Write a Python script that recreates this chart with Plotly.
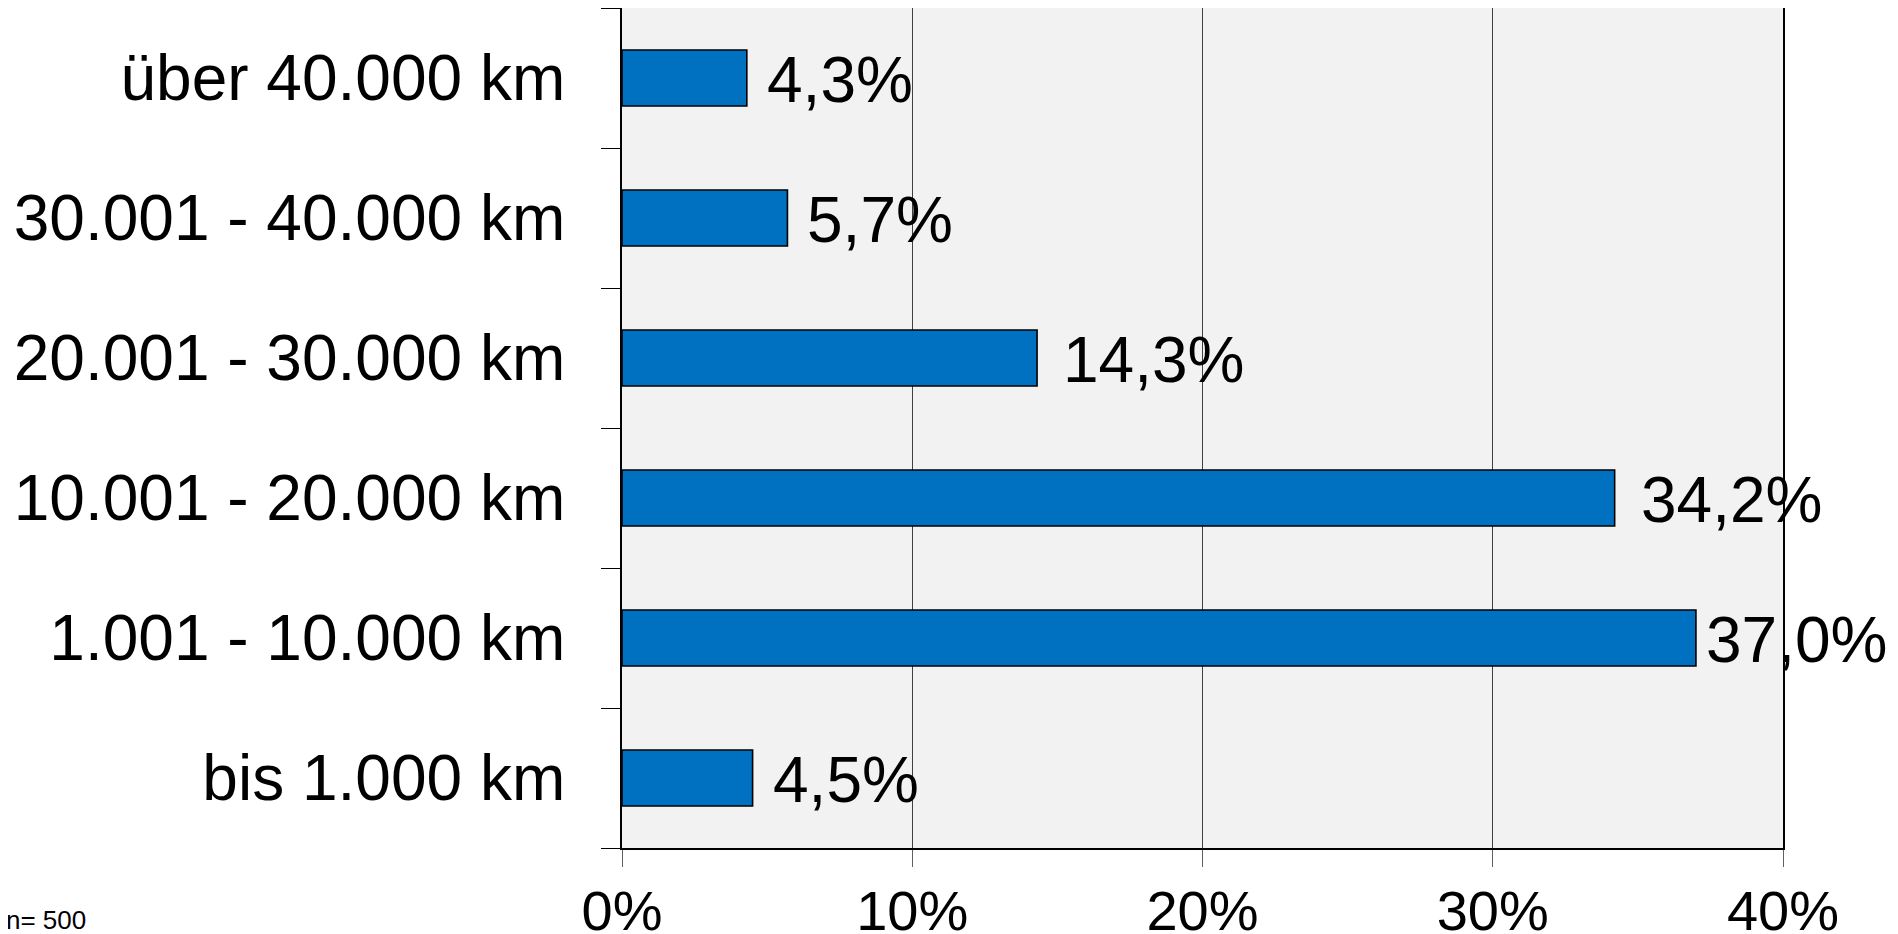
import plotly.graph_objects as go

categories = ["bis 1.000 km", "1.001 - 10.000 km", "10.001 - 20.000 km",
              "20.001 - 30.000 km", "30.001 - 40.000 km", "über 40.000 km"]
values = [4.5, 37.0, 34.2, 14.3, 5.7, 4.3]
x_ticks = [0, 10, 20, 30, 40]
x_tick_labels = ["0%", "10%", "20%", "30%", "40%"]
note = "n= 500"

FONT = "Liberation Sans, Arial, sans-serif"

def de_pct(v):
    return f"{v:.1f}".replace(".", ",") + "%"

fig = go.Figure()
fig.add_trace(go.Bar(
    x=values, y=categories, orientation="h",
    marker=dict(color="#0070C0", line=dict(color="black", width=1.6)),
    hoverinfo="skip",
))

for v, c in zip(values, categories):
    # labels next to the longest bars sit closer so they stay inside the figure
    shift = 8 if v > 36 else (18 if v < 6 else 24)
    fig.add_annotation(x=v, y=c, text=de_pct(v), showarrow=False,
                       xanchor="left", yanchor="middle", xshift=shift, yshift=-2,
                       font=dict(family=FONT, size=64, color="black"))

fig.add_annotation(x=0, y=0, xref="paper", yref="paper", text=note,
                   showarrow=False, xanchor="left", yanchor="middle",
                   xshift=-618, yshift=-72,
                   font=dict(family=FONT, size=26, color="black"))

# the page body adds an 8px margin, so the figure is 8px smaller than the window
fig.update_layout(
    width=1890, height=926,
    margin=dict(l=614, r=115, t=0, b=86, autoexpand=False),
    paper_bgcolor="white", plot_bgcolor="#F2F2F2",
    bargap=0.6, showlegend=False,
    font=dict(family=FONT, color="black"),
)
fig.update_xaxes(
    range=[0, 40], tickvals=x_ticks, ticktext=x_tick_labels,
    showgrid=True, gridcolor="#404040", gridwidth=1,
    showline=True, linecolor="black", linewidth=2, mirror=True,
    ticks="outside", ticklen=17, tickcolor="#606060", tickwidth=1,
    tickfont=dict(family=FONT, size=56, color="black"),
    ticklabelstandoff=-4, zeroline=False, automargin=False,
)
fig.update_yaxes(
    categoryorder="array", categoryarray=categories,
    showgrid=False,
    showline=True, linecolor="black", linewidth=2, mirror=True,
    ticks="outside", tickson="boundaries", ticklen=19, tickcolor="black", tickwidth=1,
    tickfont=dict(family=FONT, size=64, color="black"),
    ticklabelstandoff=42, automargin=False,
)

fig.write_html("out.html")
